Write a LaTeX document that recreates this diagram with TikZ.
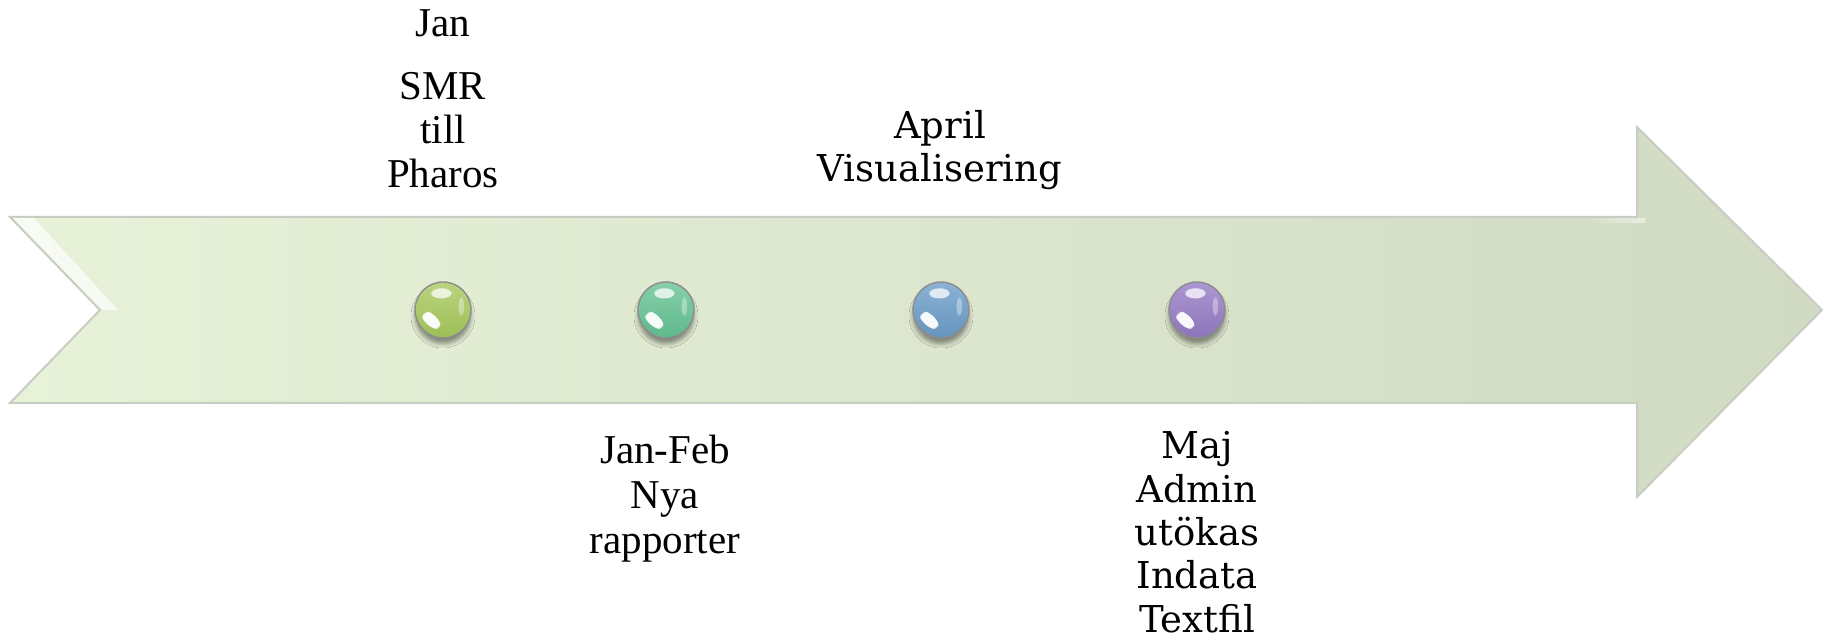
\documentclass[tikz,border=0pt]{standalone}
\usepackage{fontspec}
\setmainfont{Liberation Serif}
\newfontfamily\camfont{DejaVu Serif}
\usetikzlibrary{shadows.blur,fadings}
\definecolor{arrowL}{RGB}{232,242,217}
\definecolor{arrowR}{RGB}{209,218,195}
\definecolor{arrowEdge}{RGB}{200,205,195}
\definecolor{ballA}{RGB}{166,200,92}
\definecolor{ballB}{RGB}{100,194,146}
\definecolor{ballC}{RGB}{106,156,200}
\definecolor{ballD}{RGB}{148,122,196}
\tikzset{
  ballnode/.style={circle, minimum size=28pt, inner sep=0pt,
    draw=black!45, line width=0.7pt,
    top color=#1!78!white, bottom color=#1!95!black,
    blur shadow={shadow xshift=0pt, shadow yshift=-3pt, shadow blur radius=2pt, shadow opacity=40}},
  glint/.style={white, path fading=circle with fuzzy edge 15 percent},
  timestxt/.style={align=center, inner sep=0pt, anchor=north},
  camtxt/.style={align=center, inner sep=0pt, anchor=north},
}
\begin{document}
\begin{tikzpicture}[x=0.5pt, y=-0.5pt]
\useasboundingbox (0,0) rectangle (1832,640);
% big arrow
\draw[draw=arrowEdge, line width=1pt, line join=miter, left color=arrowL, right color=arrowR]
  (10,217) -- (1637,217) -- (1637,127) -- (1822,310) -- (1637,497) -- (1637,403)
  -- (10,403) -- (100,310) -- cycle;
% soft highlights on the arrow
\fill[white, opacity=0.7] (13,218) -- (34,218) -- (118,310) -- (102,310) -- cycle;
\shade[left color=arrowR, right color=white, opacity=0.5] (1580,219) rectangle (1645,223);
% balls
\node[ballnode=ballA] (b1) at (443,310) {};
\node[ballnode=ballB] (b2) at (666,310) {};
\node[ballnode=ballC] (b3) at (941,310) {};
\node[ballnode=ballD] (b4) at (1197,310) {};
\foreach \n in {b1, b2, b3, b4}{
  \begin{scope}[shift={(\n.center)}, x=1pt, y=1pt]
    \fill[glint, opacity=0.75] (-1,8.5) ellipse (5.5 and 2.8);
    \begin{scope}[shift={(-6,-5)}, rotate=-42]
      \fill[glint, opacity=0.95] (0,0) ellipse (6 and 2.8);
    \end{scope}
    \fill[glint, opacity=0.35] (9,2) ellipse (1.6 and 5);
  \end{scope}
}
% texts
\node[timestxt, font=\fontsize{20.5}{22}\selectfont] (t0) at (443,9) {Jan};
\node[timestxt, font=\fontsize{20.5}{22}\selectfont] (t1) at (443,72) {SMR\\till\\Pharos};
\node[timestxt, font=\fontsize{20.5}{22.5}\selectfont] (t2) at (665,435) {Jan-Feb\\Nya\\rapporter};
\node[camtxt, font=\camfont\fontsize{18.5}{21.7}\selectfont] (t3) at (940,110) {April\\Visualisering};
\node[camtxt, font=\camfont\fontsize{18.5}{21.7}\selectfont] (t4) at (1197,431) {Maj\\Admin\\utökas\\Indata\\Textfil};
\end{tikzpicture}
\end{document}
